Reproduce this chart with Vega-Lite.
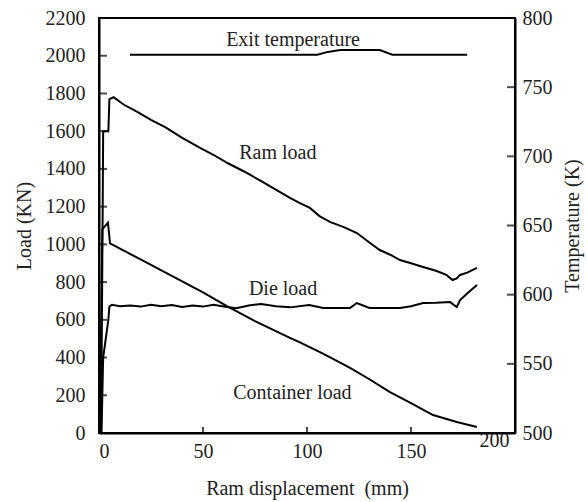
{
  "$schema": "https://vega.github.io/schema/vega-lite/v6.json",
  "width": 416,
  "height": 415,
  "autosize": "none",
  "padding": {"left": 99, "top": 18, "right": 72, "bottom": 69},
  "background": "white",
  "config": {
    "view": {"stroke": "black", "strokeWidth": 2},
    "font": "Liberation Serif",
    "axis": {
      "grid": false,
      "ticks": false,
      "domainColor": "black",
      "domainWidth": 2,
      "labelFont": "Liberation Serif",
      "labelFontSize": 20,
      "labelColor": "#222",
      "titleFont": "Liberation Serif",
      "titleFontSize": 20,
      "titleFontWeight": "normal",
      "titleColor": "#222"
    }
  },
  "datasets": {
    "loads": [
      {"series": "Ram load", "i": 0, "mm": 1.0, "load": 0},
      {"series": "Ram load", "i": 1, "mm": 1.8, "load": 1230},
      {"series": "Ram load", "i": 2, "mm": 2.0, "load": 1600},
      {"series": "Ram load", "i": 3, "mm": 4.5, "load": 1600},
      {"series": "Ram load", "i": 4, "mm": 5.0, "load": 1770},
      {"series": "Ram load", "i": 5, "mm": 7.0, "load": 1780},
      {"series": "Ram load", "i": 6, "mm": 12, "load": 1740},
      {"series": "Ram load", "i": 7, "mm": 18, "load": 1705},
      {"series": "Ram load", "i": 8, "mm": 25, "load": 1660},
      {"series": "Ram load", "i": 9, "mm": 32, "load": 1620},
      {"series": "Ram load", "i": 10, "mm": 40, "load": 1565},
      {"series": "Ram load", "i": 11, "mm": 48.6, "load": 1511},
      {"series": "Ram load", "i": 12, "mm": 55, "load": 1475},
      {"series": "Ram load", "i": 13, "mm": 62, "load": 1430},
      {"series": "Ram load", "i": 14, "mm": 70, "load": 1385},
      {"series": "Ram load", "i": 15, "mm": 78, "load": 1335},
      {"series": "Ram load", "i": 16, "mm": 85, "load": 1290},
      {"series": "Ram load", "i": 17, "mm": 91.8, "load": 1246},
      {"series": "Ram load", "i": 18, "mm": 96.6, "load": 1219},
      {"series": "Ram load", "i": 19, "mm": 101.4, "load": 1193},
      {"series": "Ram load", "i": 20, "mm": 106, "load": 1150},
      {"series": "Ram load", "i": 21, "mm": 111, "load": 1119},
      {"series": "Ram load", "i": 22, "mm": 118, "load": 1090},
      {"series": "Ram load", "i": 23, "mm": 124, "load": 1060},
      {"series": "Ram load", "i": 24, "mm": 130, "load": 1010},
      {"series": "Ram load", "i": 25, "mm": 135, "load": 970},
      {"series": "Ram load", "i": 26, "mm": 140, "load": 945},
      {"series": "Ram load", "i": 27, "mm": 144.7, "load": 917},
      {"series": "Ram load", "i": 28, "mm": 150, "load": 900},
      {"series": "Ram load", "i": 29, "mm": 155.8, "load": 880},
      {"series": "Ram load", "i": 30, "mm": 162, "load": 860},
      {"series": "Ram load", "i": 31, "mm": 167, "load": 838},
      {"series": "Ram load", "i": 32, "mm": 170, "load": 811},
      {"series": "Ram load", "i": 33, "mm": 172, "load": 820},
      {"series": "Ram load", "i": 34, "mm": 173.6, "load": 838},
      {"series": "Ram load", "i": 35, "mm": 177, "load": 850},
      {"series": "Ram load", "i": 36, "mm": 181.7, "load": 875},

      {"series": "Die load", "i": 0, "mm": 1.2, "load": 0},
      {"series": "Die load", "i": 1, "mm": 2.0, "load": 400},
      {"series": "Die load", "i": 2, "mm": 4.5, "load": 600},
      {"series": "Die load", "i": 3, "mm": 5.0, "load": 670},
      {"series": "Die load", "i": 4, "mm": 6.2, "load": 680},
      {"series": "Die load", "i": 5, "mm": 10, "load": 672},
      {"series": "Die load", "i": 6, "mm": 15, "load": 676},
      {"series": "Die load", "i": 7, "mm": 20, "load": 670},
      {"series": "Die load", "i": 8, "mm": 25, "load": 680},
      {"series": "Die load", "i": 9, "mm": 30, "load": 672},
      {"series": "Die load", "i": 10, "mm": 35, "load": 678},
      {"series": "Die load", "i": 11, "mm": 40, "load": 668},
      {"series": "Die load", "i": 12, "mm": 45, "load": 676},
      {"series": "Die load", "i": 13, "mm": 50, "load": 670},
      {"series": "Die load", "i": 14, "mm": 55, "load": 680},
      {"series": "Die load", "i": 15, "mm": 61.5, "load": 668},
      {"series": "Die load", "i": 16, "mm": 66, "load": 662},
      {"series": "Die load", "i": 17, "mm": 72, "load": 676},
      {"series": "Die load", "i": 18, "mm": 78, "load": 684},
      {"series": "Die load", "i": 19, "mm": 85, "load": 672},
      {"series": "Die load", "i": 20, "mm": 92, "load": 666},
      {"series": "Die load", "i": 21, "mm": 101, "load": 678},
      {"series": "Die load", "i": 22, "mm": 107.8, "load": 663},
      {"series": "Die load", "i": 23, "mm": 120.7, "load": 663},
      {"series": "Die load", "i": 24, "mm": 124, "load": 689},
      {"series": "Die load", "i": 25, "mm": 130, "load": 663},
      {"series": "Die load", "i": 26, "mm": 144.7, "load": 663},
      {"series": "Die load", "i": 27, "mm": 150, "load": 672},
      {"series": "Die load", "i": 28, "mm": 155.8, "load": 689},
      {"series": "Die load", "i": 29, "mm": 162, "load": 690},
      {"series": "Die load", "i": 30, "mm": 168.8, "load": 694},
      {"series": "Die load", "i": 31, "mm": 172, "load": 668},
      {"series": "Die load", "i": 32, "mm": 173.6, "load": 705},
      {"series": "Die load", "i": 33, "mm": 177, "load": 740},
      {"series": "Die load", "i": 34, "mm": 181.7, "load": 785},

      {"series": "Container load", "i": 0, "mm": 0.5, "load": 0},
      {"series": "Container load", "i": 1, "mm": 1.5, "load": 1000},
      {"series": "Container load", "i": 2, "mm": 1.6, "load": 1080},
      {"series": "Container load", "i": 3, "mm": 4.3, "load": 1115},
      {"series": "Container load", "i": 4, "mm": 5.3, "load": 1005},
      {"series": "Container load", "i": 5, "mm": 20, "load": 920},
      {"series": "Container load", "i": 6, "mm": 35, "load": 833},
      {"series": "Container load", "i": 7, "mm": 50, "load": 745},
      {"series": "Container load", "i": 8, "mm": 61.5, "load": 672},
      {"series": "Container load", "i": 9, "mm": 75, "load": 593},
      {"series": "Container load", "i": 10, "mm": 91.8, "load": 504},
      {"series": "Container load", "i": 11, "mm": 96.6, "load": 480},
      {"series": "Container load", "i": 12, "mm": 105, "load": 435},
      {"series": "Container load", "i": 13, "mm": 110, "load": 408},
      {"series": "Container load", "i": 14, "mm": 120.7, "load": 345},
      {"series": "Container load", "i": 15, "mm": 130, "load": 285},
      {"series": "Container load", "i": 16, "mm": 139.9, "load": 217},
      {"series": "Container load", "i": 17, "mm": 150, "load": 158},
      {"series": "Container load", "i": 18, "mm": 160.6, "load": 95},
      {"series": "Container load", "i": 19, "mm": 172, "load": 58},
      {"series": "Container load", "i": 20, "mm": 181.7, "load": 32}
    ],
    "temperature": [
      {"mm": 14.9, "temp": 773.5},
      {"mm": 60, "temp": 773.5},
      {"mm": 105, "temp": 773.5},
      {"mm": 110, "temp": 775.5},
      {"mm": 116, "temp": 776.8},
      {"mm": 135, "temp": 776.8},
      {"mm": 141, "temp": 773.5},
      {"mm": 177, "temp": 773.5}
    ],
    "labels": [
      {"text": "Exit temperature", "mm": 93.3, "load": 2083},
      {"text": "Ram load", "mm": 86, "load": 1484},
      {"text": "Die load", "mm": 88.5, "load": 763},
      {"text": "Container load", "mm": 93, "load": 212}
    ]
  },
  "layer": [
    {
      "encoding": {
        "x": {
          "field": "mm",
          "type": "quantitative",
          "scale": {"domain": [0, 200], "nice": false},
          "axis": {
            "values": [0, 50, 100, 150, 200],
            "labelPadding": {"condition": {"test": "datum.value === 200", "value": -3}, "value": 8},
            "labelOffset": {"condition": {"test": "datum.value === 200", "value": -6}, "value": 0},
            "title": "Ram displacement\u00a0 (mm)",
            "titlePadding": 17
          }
        },
        "y": {
          "field": "load",
          "type": "quantitative",
          "scale": {"domain": [0, 2200], "nice": false},
          "axis": {
            "values": [0, 200, 400, 600, 800, 1000, 1200, 1400, 1600, 1800, 2000, 2200],
            "format": "d",
            "labelPadding": 14,
            "title": "Load (KN)",
            "titlePadding": 11
          }
        }
      },
      "layer": [
        {
          "data": {"name": "loads"},
          "mark": {"type": "line", "color": "black", "strokeWidth": 2},
          "encoding": {
            "detail": {"field": "series"},
            "order": {"field": "i", "type": "quantitative"}
          }
        },
        {
          "data": {"name": "labels"},
          "mark": {"type": "text", "fontSize": 20, "color": "#222", "align": "center", "baseline": "middle"},
          "encoding": {"text": {"field": "text"}}
        }
      ]
    },
    {
      "encoding": {
        "x": {"field": "mm", "type": "quantitative", "scale": {"domain": [0, 200], "nice": false}},
        "y": {
          "field": "temp",
          "type": "quantitative",
          "scale": {"domain": [500, 800], "nice": false},
          "axis": {
            "orient": "right",
            "values": [500, 550, 600, 650, 700, 750, 800],
            "labelPadding": 7,
            "title": "Temperature (K)",
            "titleAngle": -90,
            "titleBaseline": "top",
            "titlePadding": 10
          }
        }
      },
      "layer": [
        {
          "data": {"name": "temperature"},
          "mark": {"type": "line", "color": "black", "strokeWidth": 2}
        },
        {
          "data": {"values": [
            {"temp": 550, "mm": 200}, {"temp": 600, "mm": 200}, {"temp": 650, "mm": 200},
            {"temp": 700, "mm": 200}, {"temp": 750, "mm": 200}
          ]},
          "mark": {"type": "tick", "orient": "horizontal", "color": "black", "thickness": 2, "size": 8, "xOffset": -4}
        }
      ]
    },
    {
      "encoding": {
        "x": {"field": "mm", "type": "quantitative", "scale": {"domain": [0, 200], "nice": false}},
        "y": {
          "field": "tickload",
          "type": "quantitative",
          "scale": {"domain": [0, 2200], "nice": false},
          "axis": null
        }
      },
      "layer": [
        {
          "data": {"values": [
            {"tickload": 200, "mm": 0}, {"tickload": 400, "mm": 0}, {"tickload": 600, "mm": 0},
            {"tickload": 800, "mm": 0}, {"tickload": 1000, "mm": 0}, {"tickload": 1200, "mm": 0},
            {"tickload": 1400, "mm": 0}, {"tickload": 1600, "mm": 0}, {"tickload": 1800, "mm": 0},
            {"tickload": 2000, "mm": 0}
          ]},
          "mark": {"type": "tick", "orient": "horizontal", "color": "black", "thickness": 2, "size": 8, "xOffset": 4}
        },
        {
          "data": {"values": [
            {"mm": 50, "tickload": 0}, {"mm": 100, "tickload": 0}, {"mm": 150, "tickload": 0}
          ]},
          "mark": {"type": "tick", "orient": "vertical", "color": "black", "thickness": 2, "size": 6, "yOffset": -3}
        }
      ]
    }
  ],
  "resolve": {"scale": {"y": "independent"}}
}
